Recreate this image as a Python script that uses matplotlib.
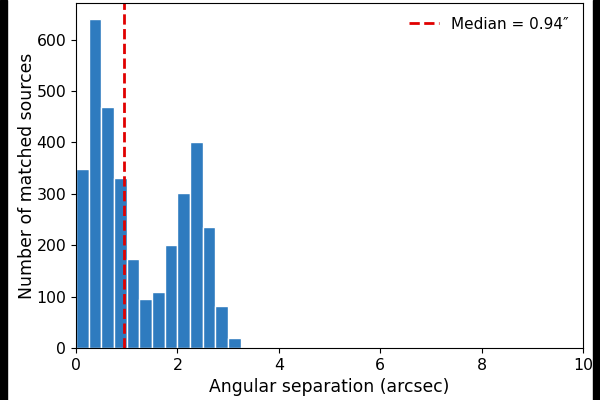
import numpy as np
import matplotlib
matplotlib.use("Agg")
import matplotlib.pyplot as plt
from matplotlib.patches import Rectangle

bin_edges = np.arange(0, 3.26, 0.25)
counts = [349, 639, 469, 331, 173, 95, 109, 201, 302, 401, 236, 82, 19]
median_sep = 0.94

fig, ax = plt.subplots(figsize=(6, 4), dpi=100)
fig.subplots_adjust(left=76/600, right=583/600, top=1-3/400, bottom=1-348/400)
ax.bar(bin_edges[:-1], counts, width=0.25, align="edge", color="#2e7bbf",
       edgecolor="white", linewidth=1.0)
ax.axvline(median_sep, color="#e00000", linestyle="--", linewidth=2,
           label="Median = 0.94\u2033")
ax.set_xlim(0, 10)
ax.set_ylim(0, 671)
ax.set_xlabel("Angular separation (arcsec)", fontsize=12.4)
ax.set_ylabel("Number of matched sources", fontsize=12.4, labelpad=0.5)
ax.tick_params(labelsize=11.3)
ax.legend(loc="upper right", frameon=False, fontsize=11)

# black letterbox bands at the left and right edges
for x0, w in [(0, 7/600), (593/600, 7/600)]:
    fig.add_artist(Rectangle((x0, 0), w, 1, transform=fig.transFigure,
                             color="black", zorder=20))
fig.savefig("out.png")
